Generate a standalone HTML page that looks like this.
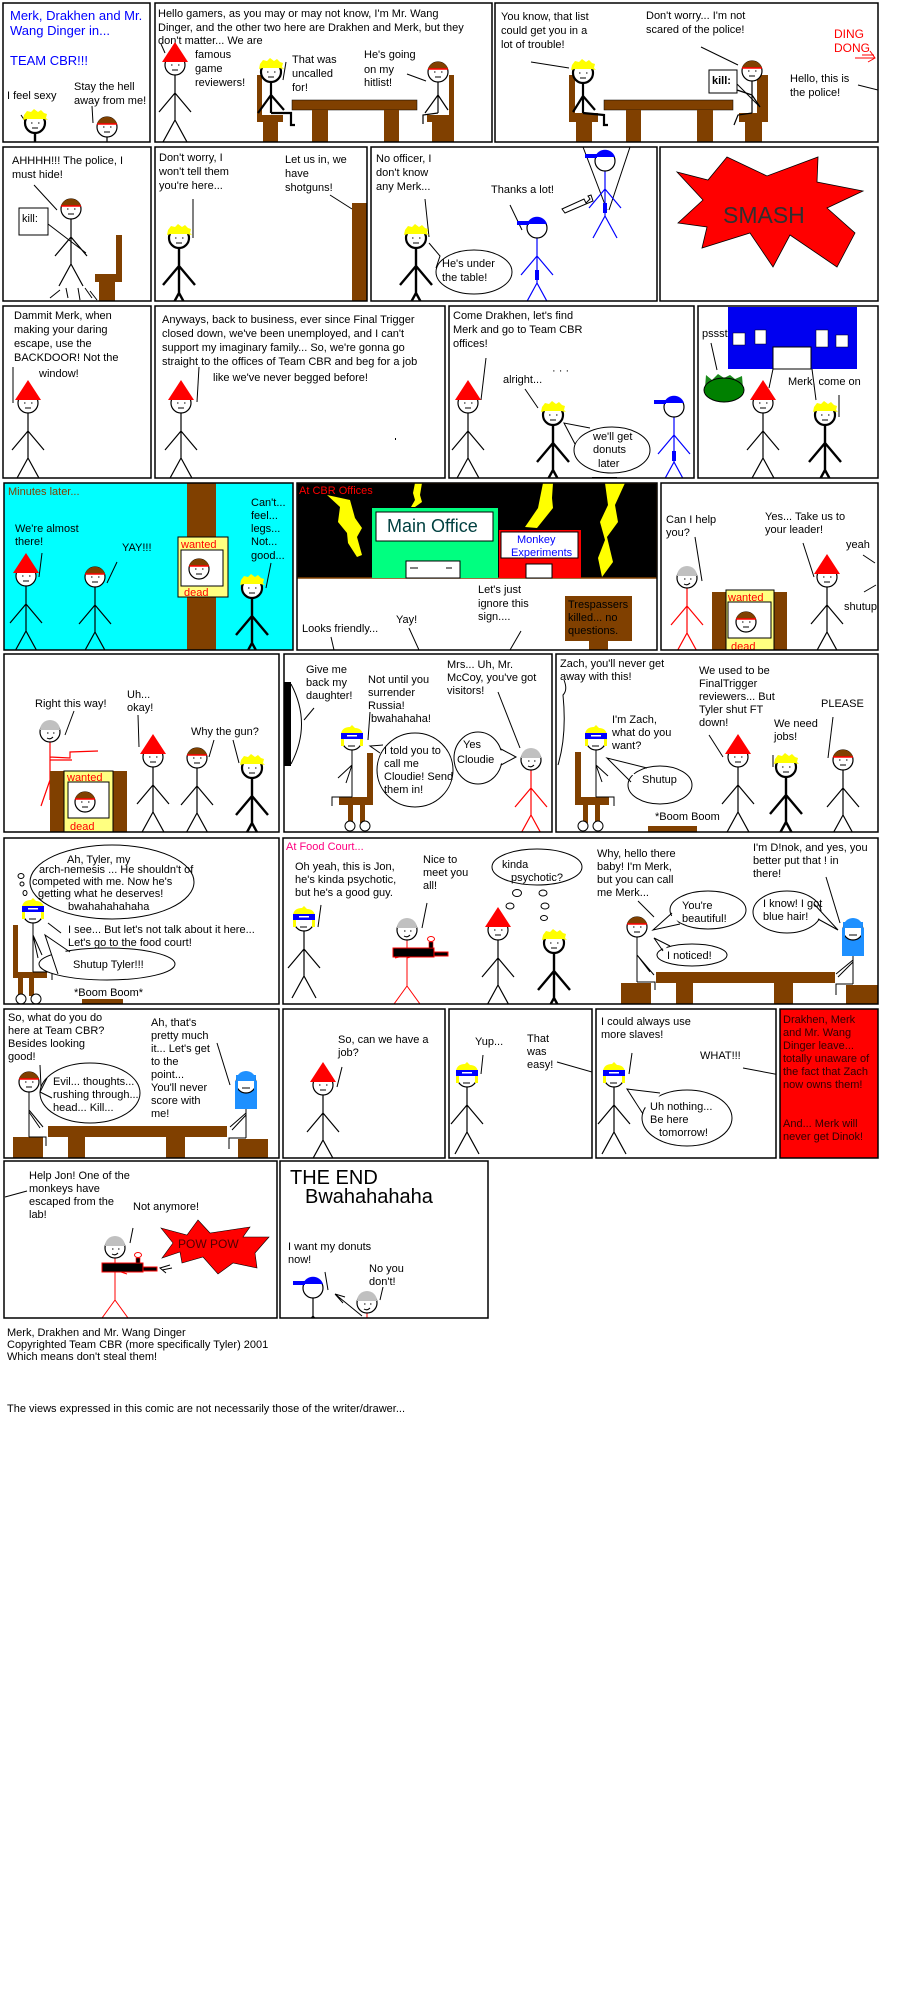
<!DOCTYPE html>
<html><head><meta charset="utf-8"><style>
html,body{margin:0;padding:0;background:#fff;width:900px;height:2000px;overflow:hidden}
svg{display:block}
text{font-family:"Liberation Sans",Arial,sans-serif;font-size:11px;fill:#000}
</style></head><body>
<svg width="900" height="2000" viewBox="0 0 900 2000" xmlns="http://www.w3.org/2000/svg">
<defs>
<g id="fig" fill="none" stroke="#000" stroke-width="1.2"><path d="M0 10V55M0 28L-16 47M0 28L16 47M0 55L-12 77M0 55L12 77"/></g>
<g id="figT" fill="none" stroke="#000" stroke-width="2.4"><path d="M0 10V55M0 28L-16 47M0 28L16 47M0 55L-12 77M0 55L12 77"/></g>
<g id="figR" fill="none" stroke="#f00" stroke-width="1.2"><path d="M0 10V55M0 28L-16 47M0 28L16 47M0 55L-12 77M0 55L12 77"/></g>
<g id="figB" fill="none" stroke="#00f" stroke-width="1.2"><path d="M0 10V55M0 28L-16 47M0 28L16 47M0 55L-12 77M0 55L12 77"/></g>
<g id="face" stroke="#000" stroke-width="1"><path d="M-4 0h1.5M3 0h1.5M-3 5h6"/></g>
<g id="hd"><circle r="10" fill="#fff" stroke="#000" stroke-width="1.2"/><use href="#face"/></g>
<g id="drak"><use href="#hd"/><path d="M-13 -3L13 -3L0 -23Z" fill="#f00"/></g>
<g id="merk"><circle r="10" fill="#fff" stroke="#000" stroke-width="1.2"/><path d="M-10 -3A10.5 10.5 0 0 1 10 -3Z" fill="#804000"/><path d="M-10 -3H10" stroke="#f00" stroke-width="1.6"/><use href="#face"/></g>
<g id="blond"><circle r="10" fill="#fff" stroke="#000" stroke-width="2.2"/><path d="M-12 -3L-11 -8L-8 -12L-4 -11L-1 -14L3 -11L6 -13L9 -10L12 -9L11 -5L13 -3L8 -4L-8 -4Z" fill="#ff0"/><use href="#face"/></g>
<g id="cop"><circle r="10" fill="#fff" stroke="#000" stroke-width="1.2"/><path d="M-10 -4A10.5 10.5 0 0 1 10 -4Z" fill="#00f"/><rect x="-20" y="-7" width="12" height="4" fill="#00f"/></g>
<g id="jon"><circle r="10" fill="#fff" stroke="#000" stroke-width="1.2"/><path d="M-10 -2A10 10 0 0 1 10 -2Z" fill="#c0c0c0"/><path d="M-3 1h1.5M3 1h1.5M-3 6q3 2 6 -1" stroke="#000" fill="none"/></g>
<g id="zach"><circle r="10" fill="#fff" stroke="#000" stroke-width="1.2"/><path d="M-11 -6Q-10 -13 -2 -13L0 -15L3 -12Q10 -12 11 -5Z" fill="#ff0"/><rect x="-11" y="-7" width="22" height="6" fill="#00f"/><rect x="-5" y="-5" width="10" height="1.5" fill="#fff"/><rect x="-11" y="-1" width="3" height="7" fill="#ff0"/><rect x="8" y="-1" width="3" height="7" fill="#ff0"/><path d="M-4 6h7" stroke="#000"/></g>
<g id="dinok"><rect x="-10" y="-8" width="20" height="34" fill="#1e90ff"/><circle r="10" fill="#fff" stroke="#000" stroke-width="1.2"/><path d="M-10 -2A10 10 0 0 1 10 -2Z" fill="#1e90ff"/><rect x="-11" y="-2" width="3" height="28" fill="#1e90ff"/><rect x="8" y="-2" width="3" height="28" fill="#1e90ff"/><path d="M-4 5h8" stroke="#000"/></g>
</defs>

<!-- P1 -->
<svg x="3" y="3" width="147" height="139" viewBox="3 3 147 139">
<rect x="3" y="3" width="147" height="139" fill="#fff"/>
<text x="10" y="20" style="font-size:13px;fill:#00f">Merk, Drakhen and Mr.</text>
<text x="10" y="35" style="font-size:13px;fill:#00f">Wang Dinger in...</text>
<text x="10" y="65" style="font-size:13px;fill:#00f">TEAM CBR!!!</text>
<text x="7" y="99">I feel sexy</text>
<text x="74" y="90">Stay the hell</text>
<text x="74" y="104">away from me!</text>
<path d="M92 106L93 123M21 115L25 121" stroke="#000"/>
<use href="#figT" x="35" y="123"/><use href="#blond" x="35" y="123"/>
<use href="#fig" x="107" y="127"/><use href="#merk" x="107" y="127"/>
</svg>

<!-- P2 -->
<svg x="155" y="3" width="337" height="139" viewBox="155 3 337 139">
<rect x="155" y="3" width="337" height="139" fill="#fff"/>
<text x="158" y="17">Hello gamers, as you may or may not know, I'm Mr. Wang</text>
<text x="158" y="31">Dinger, and the other two here are Drakhen and Merk, but they</text>
<text x="158" y="44">don't matter... We are</text>
<text x="195" y="58">famous</text><text x="195" y="72">game</text><text x="195" y="86">reviewers!</text>
<path d="M161 44L165 53" stroke="#000"/>
<use href="#fig" x="175" y="65"/><use href="#drak" x="175" y="65"/>
<rect x="257" y="75" width="5" height="45" fill="#804000"/>
<rect x="257" y="115" width="26" height="7" fill="#804000"/>
<rect x="263" y="122" width="15" height="20" fill="#804000"/>
<path d="M271 82V113M271 95L258 113M271 95L284 110M271 113H291V125H295" stroke="#000" stroke-width="2.2" fill="none"/>
<use href="#blond" x="271" y="72"/>
<text x="292" y="63">That was</text><text x="292" y="77">uncalled</text><text x="292" y="91">for!</text>
<path d="M286 62L283 80" stroke="#000"/>
<rect x="292" y="100" width="125" height="10" fill="#804000" stroke="#000" stroke-width=".5"/>
<rect x="312" y="110" width="16" height="32" fill="#804000"/>
<rect x="384" y="110" width="15" height="32" fill="#804000"/>
<text x="364" y="58">He's going</text><text x="364" y="73">on my</text><text x="364" y="86">hitlist!</text>
<path d="M407 74L426 81" stroke="#000"/>
<rect x="449" y="75" width="5" height="40" fill="#804000"/>
<rect x="427" y="115" width="27" height="7" fill="#804000"/>
<rect x="432" y="122" width="22" height="20" fill="#804000"/>
<path d="M438 82V113M438 95L425 113M438 95L448 110M438 113L423 115V124" stroke="#000" stroke-width="1.2" fill="none"/>
<use href="#merk" x="438" y="72"/>
</svg>

<!-- P3 -->
<svg x="495" y="3" width="383" height="139" viewBox="495 3 383 139">
<rect x="495" y="3" width="383" height="139" fill="#fff"/>
<text x="501" y="20">You know, that list</text>
<text x="501" y="34">could get you in a</text>
<text x="501" y="48">lot of trouble!</text>
<path d="M531 62L569 68" stroke="#000"/>
<rect x="569" y="75" width="6" height="47" fill="#804000"/>
<rect x="569" y="113" width="29" height="9" fill="#804000"/>
<rect x="576" y="122" width="16" height="20" fill="#804000"/>
<path d="M583 83V113M583 96L573 112M583 96L595 110M583 113L604 115V125H608" stroke="#000" stroke-width="2.2" fill="none"/>
<use href="#blond" x="583" y="73"/>
<text x="646" y="19">Don't worry... I'm not</text>
<text x="646" y="33">scared of the police!</text>
<path d="M701 47L738 65" stroke="#000"/>
<rect x="604" y="100" width="129" height="10" fill="#804000" stroke="#000" stroke-width=".5"/>
<rect x="626" y="110" width="15" height="32" fill="#804000"/>
<rect x="697" y="110" width="16" height="32" fill="#804000"/>
<rect x="757" y="75" width="11" height="47" fill="#804000"/>
<rect x="739" y="113" width="29" height="9" fill="#804000"/>
<rect x="745" y="122" width="17" height="20" fill="#804000"/>
<path d="M752 81V113M752 95L737 90M752 95L760 107M752 113L738 115L734 125" stroke="#000" stroke-width="1.2" fill="none"/>
<use href="#merk" x="752" y="71"/>
<rect x="709" y="70" width="28" height="23" fill="#fff" stroke="#000"/>
<text x="712" y="84" style="font-weight:bold">kill:</text>
<path d="M737 84L760 107" stroke="#000"/>
<text x="834" y="38" style="fill:#f00;font-size:12px">DING</text>
<text x="834" y="52" style="fill:#f00;font-size:12px">DONG</text>
<path d="M855 58H875M862 55H874M870 51L875 58L868 62" stroke="#f00" fill="none"/>
<text x="790" y="82">Hello, this is</text>
<text x="790" y="96">the police!</text>
<path d="M858 85L878 90" stroke="#000"/>
</svg>

<!-- P4 -->
<svg x="3" y="147" width="148" height="154" viewBox="3 147 148 154">
<rect x="3" y="147" width="148" height="154" fill="#fff"/>
<text x="12" y="164">AHHHH!!! The police, I</text>
<text x="12" y="178">must hide!</text>
<path d="M34 185L57 210M48 224L86 253" stroke="#000"/>
<use href="#fig" x="71" y="209"/><use href="#merk" x="71" y="209"/>
<rect x="19" y="208" width="29" height="27" fill="#fff" stroke="#000"/>
<text x="22" y="222">kill:</text>
<rect x="116" y="235" width="6" height="40" fill="#804000"/>
<rect x="95" y="274" width="27" height="8" fill="#804000"/>
<rect x="99" y="282" width="16" height="19" fill="#804000"/>
<path d="M50 298L60 290M66 288L68 298M78 288L80 300M85 288L92 298M90 291L97 300" stroke="#000"/>
</svg>

<!-- P5 -->
<svg x="155" y="147" width="212" height="154" viewBox="155 147 212 154">
<rect x="155" y="147" width="212" height="154" fill="#fff"/>
<text x="159" y="161">Don't worry, I</text>
<text x="159" y="175">won't tell them</text>
<text x="159" y="189">you're here...</text>
<path d="M193 199V238" stroke="#000"/>
<use href="#figT" x="179" y="238"/><use href="#blond" x="179" y="238"/>
<text x="285" y="163">Let us in, we</text>
<text x="285" y="177">have</text>
<text x="285" y="191">shotguns!</text>
<path d="M330 195L352 209" stroke="#000"/>
<rect x="352" y="203" width="15" height="98" fill="#804000"/>
</svg>

<!-- P6 -->
<svg x="371" y="147" width="286" height="154" viewBox="371 147 286 154">
<rect x="371" y="147" width="286" height="154" fill="#fff"/>
<text x="376" y="162">No officer, I</text>
<text x="376" y="176">don't know</text>
<text x="376" y="190">any Merk...</text>
<path d="M425 199L429 237" stroke="#000"/>
<use href="#figT" x="416" y="238"/><use href="#blond" x="416" y="238"/>
<ellipse cx="474" cy="272" rx="38" ry="22" fill="#fff" stroke="#000"/>
<path d="M429 243L440 256L436 268" stroke="#000" fill="#fff"/>
<text x="442" y="267">He's under</text>
<text x="442" y="281">the table!</text>
<text x="491" y="193">Thanks a lot!</text>
<path d="M510 205L522 230" stroke="#000"/>
<use href="#figB" x="537" y="228"/><use href="#cop" x="537" y="228"/>
<rect x="535" y="270" width="4" height="10" fill="#00f"/>
<path d="M583 147L607 210M630 147L609 210" stroke="#000"/>
<use href="#figB" x="605" y="161"/><use href="#cop" x="605" y="161"/>
<rect x="603" y="203" width="4" height="10" fill="#00f"/>
<path d="M562 209L584 199L586 203L590 199L588 196L591 195L593 201L565 213Z" fill="#fff" stroke="#000"/>
</svg>

<!-- P7 -->
<svg x="660" y="147" width="218" height="154" viewBox="660 147 218 154">
<rect x="660" y="147" width="218" height="154" fill="#fff"/>
<polygon points="677,172 708,180 727,157 767,176 818,157 817,182 863,191 827,208 855,233 837,267 790,235 773,267 750,233 702,248 707,227 678,223 703,200" fill="#f00" stroke="#000" stroke-width=".8"/>
<text x="723" y="223" style="font-size:23px;fill:#303030">SMASH</text>
</svg>

<!-- P8 -->
<svg x="3" y="306" width="148" height="172" viewBox="3 306 148 172">
<rect x="3" y="306" width="148" height="172" fill="#fff"/>
<text x="14" y="319">Dammit Merk, when</text>
<text x="14" y="333">making your daring</text>
<text x="14" y="347">escape, use the</text>
<text x="14" y="361">BACKDOOR! Not the</text>
<text x="39" y="377">window!</text>
<path d="M13 367V403" stroke="#000"/>
<use href="#fig" x="28" y="403"/><use href="#drak" x="28" y="403"/>
</svg>

<!-- P9 -->
<svg x="155" y="306" width="290" height="172" viewBox="155 306 290 172">
<rect x="155" y="306" width="290" height="172" fill="#fff"/>
<text x="162" y="323">Anyways, back to business, ever since Final Trigger</text>
<text x="162" y="337">closed down, we've been unemployed, and I can't</text>
<text x="162" y="351">support my imaginary family... So, we're gonna go</text>
<text x="162" y="365">straight to the offices of Team CBR and beg for a job</text>
<text x="213" y="381">like we've never begged before!</text>
<path d="M199 367L197 402" stroke="#000"/>
<use href="#fig" x="181" y="403"/><use href="#drak" x="181" y="403"/>
<rect x="395" y="438" width="1" height="2" fill="#000"/>
</svg>

<!-- P10 -->
<svg x="449" y="306" width="245" height="172" viewBox="449 306 245 172">
<rect x="449" y="306" width="245" height="172" fill="#fff"/>
<text x="453" y="319">Come Drakhen, let's find</text>
<text x="453" y="333">Merk and go to Team CBR</text>
<text x="453" y="347">offices!</text>
<path d="M486 358L481 400" stroke="#000"/>
<use href="#fig" x="468" y="403"/><use href="#drak" x="468" y="403"/>
<text x="503" y="383">alright...</text>
<text x="552" y="374">· · ·</text>
<path d="M525 389L538 408" stroke="#000"/>
<use href="#figT" x="553" y="415"/><use href="#blond" x="553" y="415"/>
<ellipse cx="612" cy="450" rx="38" ry="23" fill="#fff" stroke="#000"/>
<path d="M564 423L587 428L575 443Z" fill="#fff" stroke="none"/>
<path d="M575 444L564 423L590 428" stroke="#000" fill="none"/>
<text x="593" y="440">we'll get</text>
<text x="593" y="453">donuts</text>
<text x="598" y="467">later</text>
<path d="M592 478H617" stroke="#000" stroke-width="2"/>
<use href="#figB" x="674" y="407"/><use href="#cop" x="674" y="407"/>
<rect x="672" y="451" width="4" height="10" fill="#00f"/>
</svg>

<!-- P11 -->
<svg x="698" y="306" width="180" height="172" viewBox="698 306 180 172">
<rect x="698" y="306" width="180" height="172" fill="#fff"/>
<rect x="728" y="307" width="129" height="62" fill="#0000f0"/>
<rect x="733" y="333" width="12" height="12" fill="#fff" stroke="#000" stroke-width=".5"/>
<rect x="755" y="330" width="11" height="14" fill="#fff" stroke="#000" stroke-width=".5"/>
<rect x="816" y="330" width="12" height="17" fill="#fff" stroke="#000" stroke-width=".5"/>
<rect x="836" y="335" width="12" height="12" fill="#fff" stroke="#000" stroke-width=".5"/>
<rect x="773" y="347" width="38" height="22" fill="#fff" stroke="#000"/>
<text x="702" y="337">pssst</text>
<path d="M711 343L717 370" stroke="#000"/>
<path d="M705 388L706 375L712 380L718 374L724 378L730 375L735 379L742 376L743 388Z" fill="#1a8a1a"/>
<ellipse cx="724" cy="390" rx="20" ry="12" fill="#008000" stroke="#000"/>
<use href="#fig" x="763" y="403"/><use href="#drak" x="763" y="403"/>
<text x="788" y="385">Merk, come on</text>
<path d="M773 369L769 388M812 369L816 400M839 395V417" stroke="#000"/>
<use href="#figT" x="825" y="415"/><use href="#blond" x="825" y="415"/>
</svg>

<!-- P12 -->
<svg x="4" y="483" width="289" height="167" viewBox="4 483 289 167">
<rect x="4" y="483" width="289" height="167" fill="#0ff"/>
<text x="8" y="495" style="fill:#804000">Minutes later...</text>
<rect x="187" y="483" width="29" height="167" fill="#804000"/>
<rect x="178" y="537" width="50" height="60" fill="#ffff80" stroke="#000"/>
<text x="181" y="548" style="fill:#f00">wanted</text>
<rect x="181" y="550" width="42" height="36" fill="#fff" stroke="#000"/>
<use href="#merk" x="199" y="569"/>
<text x="184" y="596" style="fill:#f00">dead</text>
<text x="15" y="532">We're almost</text>
<text x="15" y="545">there!</text>
<path d="M42 553L39 577" stroke="#000"/>
<use href="#fig" x="26" y="576"/><use href="#drak" x="26" y="576"/>
<use href="#fig" x="95" y="577"/><use href="#merk" x="95" y="577"/>
<text x="122" y="551">YAY!!!</text>
<path d="M117 562L107 583" stroke="#000"/>
<text x="251" y="506">Can't...</text>
<text x="251" y="519">feel...</text>
<text x="251" y="532">legs...</text>
<text x="251" y="545">Not...</text>
<text x="251" y="559">good...</text>
<path d="M271 563L266 588" stroke="#000"/>
<use href="#figT" x="252" y="588"/><use href="#blond" x="252" y="588"/>
</svg>

<!-- P13 -->
<svg x="297" y="483" width="360" height="167" viewBox="297 483 360 167">
<rect x="297" y="483" width="360" height="167" fill="#fff"/>
<rect x="297" y="483" width="360" height="95" fill="#000" stroke="#804000" stroke-width="1.5"/>
<text x="299" y="494" style="fill:#f00">At CBR Offices</text>
<polygon points="327,495 350,500 355,518 362,528 357,537 362,555 357,557 348,543 347,533 338,522 340,507" fill="#ff0"/>
<polygon points="415,483 422,483 420,495 422,502 415,507 411,507 415,500 413,493" fill="#ff0"/>
<polygon points="543,483 553,483 552,498 553,508 537,528 525,527 538,508 540,498" fill="#ff0"/>
<polygon points="605,483 625,483 615,505 618,522 607,537 613,562 602,577 598,558 605,540 600,522 608,505" fill="#ff0"/>
<rect x="372" y="508" width="126" height="70" fill="#00ff80"/>
<rect x="376" y="512" width="117" height="29" fill="#fff" stroke="#000"/>
<text x="387" y="532" style="font-size:18px;fill:#004040">Main Office</text>
<rect x="406" y="561" width="54" height="17" fill="#fff" stroke="#000"/>
<path d="M410 568h8M452 568h-6" stroke="#000"/>
<rect x="499" y="530" width="82" height="48" fill="#f00"/>
<rect x="501" y="532" width="77" height="26" fill="#fff" stroke="#000"/>
<text x="517" y="543" style="fill:#00f">Monkey</text>
<text x="511" y="556" style="fill:#00f">Experiments</text>
<rect x="526" y="564" width="26" height="14" fill="#fff" stroke="#000"/>
<text x="302" y="632">Looks friendly...</text>
<text x="396" y="623">Yay!</text>
<text x="478" y="593">Let's just</text>
<text x="478" y="607">ignore this</text>
<text x="478" y="620">sign....</text>
<path d="M331 637L334 650M409 628L419 650M521 631L510 650" stroke="#000"/>
<rect x="565" y="596" width="67" height="45" fill="#804000"/>
<rect x="589" y="641" width="19" height="9" fill="#804000"/>
<text x="568" y="608">Trespassers</text>
<text x="568" y="621">killed... no</text>
<text x="568" y="634">questions.</text>
</svg>

<!-- P14 -->
<svg x="661" y="483" width="217" height="167" viewBox="661 483 217 167">
<rect x="661" y="483" width="217" height="167" fill="#fff"/>
<text x="666" y="523">Can I help</text>
<text x="666" y="536">you?</text>
<path d="M695 537L702 581" stroke="#000"/>
<use href="#figR" x="687" y="578"/><use href="#jon" x="687" y="578"/>
<rect x="712" y="592" width="75" height="58" fill="#804000"/>
<rect x="726" y="590" width="48" height="60" fill="#ffff80" stroke="#000"/>
<text x="728" y="601" style="fill:#f00">wanted</text>
<rect x="728" y="602" width="43" height="36" fill="#fff" stroke="#000"/>
<use href="#merk" x="746" y="622"/>
<text x="731" y="650" style="fill:#f00">dead</text>
<text x="765" y="520">Yes... Take us to</text>
<text x="765" y="533">your leader!</text>
<path d="M803 543L814 577" stroke="#000"/>
<use href="#fig" x="827" y="577"/><use href="#drak" x="827" y="577"/>
<text x="846" y="548">yeah</text>
<path d="M863 555L875 563M864 592L876 585" stroke="#000"/>
<text x="844" y="610">shutup</text>
</svg>

<!-- P15 -->
<svg x="4" y="654" width="275" height="178" viewBox="4 654 275 178">
<rect x="4" y="654" width="275" height="178" fill="#fff"/>
<text x="35" y="707">Right this way!</text>
<path d="M74 711L65 735" stroke="#000"/>
<path d="M50 742V800M50 757L70 758L70 752L98 751M50 760L72 760M50 780L41 806M50 780L62 800" stroke="#f00" fill="none" stroke-width="1.2"/>
<use href="#jon" x="50" y="732"/>
<rect x="50" y="771" width="77" height="61" fill="#804000"/>
<rect x="64" y="771" width="49" height="61" fill="#ffff80" stroke="#000"/>
<text x="67" y="781" style="fill:#f00">wanted</text>
<rect x="68" y="782" width="41" height="36" fill="#fff" stroke="#000"/>
<use href="#merk" x="85" y="802"/>
<text x="70" y="830" style="fill:#f00">dead</text>
<text x="127" y="698">Uh...</text>
<text x="127" y="711">okay!</text>
<path d="M138 715L139 747" stroke="#000"/>
<use href="#fig" x="153" y="757"/><use href="#drak" x="153" y="757"/>
<use href="#fig" x="197" y="758"/><use href="#merk" x="197" y="758"/>
<text x="191" y="735">Why the gun?</text>
<path d="M214 740L209 757M233 740L239 763" stroke="#000"/>
<use href="#figT" x="252" y="768"/><use href="#blond" x="252" y="768"/>
</svg>

<!-- P16 -->
<svg x="284" y="654" width="268" height="178" viewBox="284 654 268 178">
<rect x="284" y="654" width="268" height="178" fill="#fff"/>
<rect x="283" y="682" width="8" height="84" fill="#000"/>
<path d="M291 684Q312 724 291 764" stroke="#000" fill="none"/>
<text x="306" y="673">Give me</text>
<text x="306" y="686">back my</text>
<text x="306" y="699">daughter!</text>
<path d="M314 708L304 720" stroke="#000"/>
<text x="368" y="683">Not until you</text>
<text x="368" y="696">surrender</text>
<text x="368" y="709">Russia!</text>
<text x="371" y="722">bwahahaha!</text>
<path d="M370 712L368 740" stroke="#000"/>
<rect x="367" y="753" width="6" height="50" fill="#804000"/>
<rect x="339" y="797" width="34" height="8" fill="#804000"/>
<rect x="348" y="805" width="5" height="18" fill="#804000"/>
<rect x="360" y="805" width="5" height="18" fill="#804000"/>
<circle cx="350" cy="826" r="5" fill="#fff" stroke="#000"/>
<circle cx="365" cy="826" r="5" fill="#fff" stroke="#000"/>
<path d="M352 750V797M352 765L338 778M352 765L346 783M352 797L332 797V806" stroke="#000" fill="none"/>
<use href="#zach" x="352" y="740"/>
<ellipse cx="415" cy="770" rx="38" ry="37" fill="#fff" stroke="#000"/>
<path d="M370 746L382 744L380 752Z" fill="#fff"/>
<path d="M380 753L370 746L383 745" stroke="#000" fill="none"/>
<text x="384" y="754">I told you to</text>
<text x="384" y="767">call me</text>
<text x="384" y="780">Cloudie! Send</text>
<text x="384" y="793">them in!</text>
<text x="447" y="668">Mrs... Uh, Mr.</text>
<text x="447" y="681">McCoy, you've got</text>
<text x="447" y="694">visitors!</text>
<path d="M498 692L520 748" stroke="#000"/>
<ellipse cx="478" cy="758" rx="24" ry="26" fill="#fff" stroke="#000"/>
<path d="M500 750L516 757L500 764Z" fill="#fff"/>
<path d="M501 749L516 757L501 765" stroke="#000" fill="none"/>
<text x="463" y="748">Yes</text>
<text x="457" y="763">Cloudie</text>
<use href="#figR" x="531" y="760"/><use href="#jon" x="531" y="760"/>
</svg>

<!-- P17 -->
<svg x="556" y="654" width="322" height="178" viewBox="556 654 322 178">
<rect x="556" y="654" width="322" height="178" fill="#fff"/>
<text x="560" y="667">Zach, you'll never get</text>
<text x="560" y="680">away with this!</text>
<path d="M564 680Q568 690 563 695Q567 735 558 765" stroke="#000" fill="none"/>
<rect x="575" y="752" width="6" height="51" fill="#804000"/>
<rect x="575" y="797" width="34" height="8" fill="#804000"/>
<rect x="583" y="805" width="5" height="18" fill="#804000"/>
<rect x="595" y="805" width="5" height="18" fill="#804000"/>
<circle cx="583" cy="826" r="5" fill="#fff" stroke="#000"/>
<circle cx="598" cy="826" r="5" fill="#fff" stroke="#000"/>
<path d="M596 750V797M596 765L608 776M596 765L602 782M596 797L614 797V806" stroke="#000" fill="none"/>
<use href="#zach" x="596" y="740"/>
<text x="612" y="723">I'm Zach,</text>
<text x="612" y="736">what do you</text>
<text x="612" y="749">want?</text>
<ellipse cx="660" cy="785" rx="32" ry="19" fill="#fff" stroke="#000"/>
<path d="M607 758L630 770L640 780Z" fill="#fff"/>
<path d="M631 782L607 758L647 768" stroke="#000" fill="none"/>
<text x="642" y="783">Shutup</text>
<text x="655" y="820">*Boom Boom</text>
<rect x="648" y="826" width="49" height="6" fill="#804000"/>
<text x="699" y="674">We used to be</text>
<text x="699" y="687">FinalTrigger</text>
<text x="699" y="700">reviewers... But</text>
<text x="699" y="713">Tyler shut FT</text>
<text x="699" y="726">down!</text>
<path d="M709 735L723 757" stroke="#000"/>
<use href="#fig" x="738" y="757"/><use href="#drak" x="738" y="757"/>
<text x="774" y="727">We need</text>
<text x="774" y="740">jobs!</text>
<path d="M773 755V767" stroke="#000"/>
<use href="#figT" x="786" y="767"/><use href="#blond" x="786" y="767"/>
<text x="821" y="707">PLEASE</text>
<path d="M833 717L828 758" stroke="#000"/>
<use href="#fig" x="843" y="760"/><use href="#merk" x="843" y="760"/>
</svg>

<!-- P18 -->
<svg x="4" y="838" width="275" height="166" viewBox="4 838 275 166">
<rect x="4" y="838" width="275" height="166" fill="#fff"/>
<ellipse cx="112" cy="882" rx="82" ry="37" fill="#fff" stroke="#000"/>
<text x="67" y="863">Ah, Tyler, my</text>
<text x="39" y="873">arch-nemesis ... He shouldn't of</text>
<text x="32" y="885">competed with me. Now he's</text>
<text x="38" y="897">getting what he deserves!</text>
<text x="68" y="910">bwahahahahaha</text>
<ellipse cx="21" cy="876" rx="3" ry="2.5" fill="#fff" stroke="#000"/>
<ellipse cx="22" cy="884" rx="2" ry="2" fill="#fff" stroke="#000"/>
<ellipse cx="25" cy="893" rx="2" ry="2.5" fill="#fff" stroke="#000"/>
<rect x="13" y="925" width="5" height="50" fill="#804000"/>
<rect x="13" y="972" width="34" height="6" fill="#804000"/>
<rect x="18" y="978" width="5" height="18" fill="#804000"/>
<rect x="29" y="978" width="5" height="18" fill="#804000"/>
<circle cx="21" cy="999" r="5" fill="#fff" stroke="#000"/>
<circle cx="36" cy="999" r="5" fill="#fff" stroke="#000"/>
<path d="M33 923V972M33 935L42 955M33 935L38 958M33 972H52V980" stroke="#000" fill="none"/>
<use href="#zach" x="33" y="913"/>
<path d="M48 923L61 933" stroke="#000"/>
<text x="68" y="933">I see... But let's not talk about it here...</text>
<text x="68" y="946">Let's go to the food court!</text>
<ellipse cx="107" cy="964" rx="68" ry="16" fill="#fff" stroke="#000"/>
<path d="M45 935L70 955L58 975Z" fill="#fff"/>
<path d="M58 974L45 935L70 952" stroke="#000" fill="none"/>
<text x="73" y="968">Shutup Tyler!!!</text>
<text x="74" y="996">*Boom Boom*</text>
<rect x="82" y="999" width="41" height="5" fill="#804000"/>
</svg>

<!-- P19 -->
<svg x="283" y="838" width="595" height="166" viewBox="283 838 595 166">
<rect x="283" y="838" width="595" height="166" fill="#fff"/>
<text x="286" y="850" style="fill:#ff0080">At Food Court...</text>
<text x="295" y="870">Oh yeah, this is Jon,</text>
<text x="295" y="883">he's kinda psychotic,</text>
<text x="295" y="896">but he's a good guy.</text>
<path d="M321 905L318 927" stroke="#000"/>
<use href="#fig" x="304" y="921"/><use href="#zach" x="304" y="921"/>
<text x="423" y="863">Nice to</text>
<text x="423" y="876">meet you</text>
<text x="423" y="889">all!</text>
<path d="M427 903L422 928" stroke="#000"/>
<path d="M407 940V986M407 986L394 1004M407 986L420 1004M407 955L395 958M407 958L420 954" stroke="#f00" fill="none"/>
<use href="#jon" x="407" y="930"/>
<rect x="393" y="948" width="41" height="9" fill="#000" stroke="#f00"/>
<rect x="434" y="952" width="14" height="4" fill="#000" stroke="#f00"/>
<rect x="429" y="942" width="4" height="6" fill="#000" stroke="#f00" stroke-width=".6"/>
<ellipse cx="431" cy="939" rx="3.5" ry="2.5" fill="#fff" stroke="#f00"/>
<ellipse cx="537" cy="867" rx="45" ry="18" fill="#fff" stroke="#000"/>
<text x="502" y="868">kinda</text>
<text x="511" y="881">psychotic?</text>
<ellipse cx="517" cy="893" rx="4.5" ry="3.5" fill="#fff" stroke="#000"/>
<ellipse cx="510" cy="906" rx="4" ry="3" fill="#fff" stroke="#000"/>
<ellipse cx="543" cy="893" rx="4" ry="3" fill="#fff" stroke="#000"/>
<ellipse cx="545" cy="906" rx="4" ry="3" fill="#fff" stroke="#000"/>
<ellipse cx="544" cy="918" rx="3.5" ry="2.5" fill="#fff" stroke="#000"/>
<use href="#fig" x="498" y="930"/><use href="#drak" x="498" y="930"/>
<use href="#figT" x="554" y="943"/><use href="#blond" x="554" y="943"/>
<text x="597" y="857">Why, hello there</text>
<text x="597" y="870">baby! I'm Merk,</text>
<text x="597" y="883">but you can call</text>
<text x="597" y="896">me Merk...</text>
<path d="M638 901L654 917" stroke="#000"/>
<rect x="621" y="983" width="30" height="21" fill="#804000"/>
<path d="M637 937V982M637 955L650 972M637 955L654 975M637 982H655V990" stroke="#000" fill="none"/>
<use href="#merk" x="637" y="927"/>
<rect x="656" y="972" width="179" height="11" fill="#804000"/>
<rect x="676" y="983" width="17" height="21" fill="#804000"/>
<rect x="774" y="983" width="19" height="21" fill="#804000"/>
<ellipse cx="708" cy="910" rx="38" ry="19" fill="#fff" stroke="#000"/>
<path d="M653 930L673 915L680 925Z" fill="#fff"/>
<path d="M672 913L653 930L680 924" stroke="#000" fill="none"/>
<text x="682" y="909">You're</text>
<text x="682" y="922">beautiful!</text>
<ellipse cx="692" cy="955" rx="35" ry="11" fill="#fff" stroke="#000"/>
<path d="M654 938L668 946L664 950Z" fill="#fff"/>
<path d="M663 951L654 938L670 946" stroke="#000" fill="none"/>
<text x="667" y="959">I noticed!</text>
<text x="753" y="851">I'm D!nok, and yes, you</text>
<text x="753" y="864">better put that ! in</text>
<text x="753" y="877">there!</text>
<path d="M826 877L840 923" stroke="#000"/>
<ellipse cx="787" cy="912" rx="34" ry="21" fill="#fff" stroke="#000"/>
<path d="M815 905L838 930L818 918Z" fill="#fff"/>
<path d="M814 904L838 930L818 919" stroke="#000" fill="none"/>
<text x="763" y="907">I know! I got</text>
<text x="763" y="920">blue hair!</text>
<rect x="846" y="985" width="32" height="19" fill="#804000"/>
<path d="M853 956V984M853 960L836 974M853 962L838 977M853 984H836V995" stroke="#000" fill="none"/>
<use href="#dinok" x="853" y="930"/>
</svg>

<!-- P20 -->
<svg x="4" y="1009" width="275" height="149" viewBox="4 1009 275 149">
<rect x="4" y="1009" width="275" height="149" fill="#fff"/>
<text x="8" y="1021">So, what do you do</text>
<text x="8" y="1034">here at Team CBR?</text>
<text x="8" y="1047">Besides looking</text>
<text x="8" y="1060">good!</text>
<path d="M40 1065L41 1087" stroke="#000"/>
<rect x="13" y="1137" width="30" height="21" fill="#804000"/>
<path d="M29 1092V1137M29 1110L43 1127M29 1112L40 1128M29 1137H46V1146" stroke="#000" fill="none"/>
<use href="#merk" x="29" y="1082"/>
<ellipse cx="90" cy="1093" rx="50" ry="30" fill="#fff" stroke="#000"/>
<path d="M40 1092L48 1079L52 1097Z" fill="#fff"/>
<path d="M47 1078L40 1092L52 1098" stroke="#000" fill="none"/>
<text x="53" y="1085">Evil... thoughts...</text>
<text x="53" y="1098">rushing through...</text>
<text x="53" y="1111">head... Kill...</text>
<rect x="48" y="1126" width="179" height="11" fill="#804000"/>
<rect x="68" y="1137" width="17" height="21" fill="#804000"/>
<rect x="166" y="1137" width="19" height="21" fill="#804000"/>
<text x="151" y="1026">Ah, that's</text>
<text x="151" y="1039">pretty much</text>
<text x="151" y="1052">it... Let's get</text>
<text x="151" y="1065">to the</text>
<text x="151" y="1078">point...</text>
<text x="151" y="1091">You'll never</text>
<text x="151" y="1104">score with</text>
<text x="151" y="1117">me!</text>
<path d="M217 1043L230 1085" stroke="#000"/>
<rect x="238" y="1139" width="30" height="19" fill="#804000"/>
<path d="M246 1109V1138M246 1113L230 1127M246 1115L232 1130M246 1138H229V1149" stroke="#000" fill="none"/>
<use href="#dinok" x="246" y="1083"/>
</svg>

<!-- P21 -->
<svg x="283" y="1009" width="162" height="149" viewBox="283 1009 162 149">
<rect x="283" y="1009" width="162" height="149" fill="#fff"/>
<text x="338" y="1043">So, can we have a</text>
<text x="338" y="1056">job?</text>
<path d="M342 1067L337 1087" stroke="#000"/>
<use href="#fig" x="323" y="1085"/><use href="#drak" x="323" y="1085"/>
</svg>

<!-- P22 -->
<svg x="449" y="1009" width="143" height="149" viewBox="449 1009 143 149">
<rect x="449" y="1009" width="143" height="149" fill="#fff"/>
<text x="475" y="1045">Yup...</text>
<path d="M483 1055L481 1074" stroke="#000"/>
<use href="#fig" x="467" y="1077"/><use href="#zach" x="467" y="1077"/>
<text x="527" y="1042">That</text>
<text x="527" y="1055">was</text>
<text x="527" y="1068">easy!</text>
<path d="M557 1062L592 1072" stroke="#000"/>
</svg>

<!-- P23 -->
<svg x="596" y="1009" width="180" height="149" viewBox="596 1009 180 149">
<rect x="596" y="1009" width="180" height="149" fill="#fff"/>
<text x="601" y="1025">I could always use</text>
<text x="601" y="1038">more slaves!</text>
<path d="M632 1053L629 1074" stroke="#000"/>
<use href="#fig" x="614" y="1077"/><use href="#zach" x="614" y="1077"/>
<text x="700" y="1059">WHAT!!!</text>
<path d="M743 1068L780 1075" stroke="#000"/>
<ellipse cx="687" cy="1118" rx="45" ry="28" fill="#fff" stroke="#000"/>
<path d="M627 1089L660 1095L648 1110Z" fill="#fff"/>
<path d="M643 1114L627 1089L660 1093" stroke="#000" fill="none"/>
<text x="650" y="1110">Uh nothing...</text>
<text x="650" y="1123">Be here</text>
<text x="659" y="1136">tomorrow!</text>
</svg>

<!-- P24 -->
<rect x="780" y="1009" width="98" height="149" fill="#f00"/>
<g style="fill:#300000">
<text x="783" y="1023" style="fill:#300000">Drakhen, Merk</text>
<text x="783" y="1036" style="fill:#300000">and Mr. Wang</text>
<text x="783" y="1049" style="fill:#300000">Dinger leave...</text>
<text x="783" y="1062" style="fill:#300000">totally unaware of</text>
<text x="783" y="1075" style="fill:#300000">the fact that Zach</text>
<text x="783" y="1088" style="fill:#300000">now owns them!</text>
<text x="783" y="1127" style="fill:#300000">And... Merk will</text>
<text x="783" y="1140" style="fill:#300000">never get Dinok!</text>
</g>

<!-- P25 -->
<svg x="4" y="1161" width="273" height="157" viewBox="4 1161 273 157">
<rect x="4" y="1161" width="273" height="157" fill="#fff"/>
<text x="29" y="1179">Help Jon! One of the</text>
<text x="29" y="1192">monkeys have</text>
<text x="29" y="1205">escaped from the</text>
<text x="29" y="1218">lab!</text>
<path d="M5 1197L27 1191" stroke="#000"/>
<text x="133" y="1210">Not anymore!</text>
<path d="M133 1228L130 1243" stroke="#000"/>
<path d="M115 1258V1300M115 1300L102 1318M115 1300L128 1318M115 1270L127 1274M115 1272L130 1270" stroke="#f00" fill="none"/>
<use href="#jon" x="115" y="1248"/>
<rect x="102" y="1263" width="41" height="9" fill="#000" stroke="#f00"/>
<rect x="143" y="1267" width="14" height="4" fill="#000" stroke="#f00"/>
<rect x="136" y="1258" width="4" height="5" fill="#000" stroke="#f00" stroke-width=".6"/>
<ellipse cx="138" cy="1255" rx="3.5" ry="2.5" fill="#fff" stroke="#f00"/>
<polygon points="161,1228 187,1235 198,1220 210,1233 250,1227 243,1237 269,1237 255,1253 257,1268 233,1263 218,1274 203,1257 182,1263 180,1252 162,1258 173,1243" fill="#f00" stroke="#000" stroke-width=".6"/>
<text x="178" y="1248" style="font-size:12px;fill:#500000">POW POW</text>
<path d="M170 1265L160 1268L166 1273M172 1268L162 1270" stroke="#000" fill="none"/>
</svg>

<!-- P26 -->
<svg x="280" y="1161" width="208" height="157" viewBox="280 1161 208 157">
<rect x="280" y="1161" width="208" height="157" fill="#fff"/>
<text x="290" y="1184" style="font-size:20px">THE END</text>
<text x="305" y="1203" style="font-size:20px">Bwahahahaha</text>
<text x="288" y="1250">I want my donuts</text>
<text x="288" y="1263">now!</text>
<text x="369" y="1272">No you</text>
<text x="369" y="1285">don't!</text>
<path d="M325 1272L328 1290M383 1287L380 1300" stroke="#000"/>
<use href="#fig" x="313" y="1288"/><use href="#cop" x="313" y="1288"/>
<path d="M335 1294L362 1316M335 1294L343 1303M335 1294L345 1297" stroke="#000" fill="none"/>
<path d="M367 1313V1318" stroke="#f00"/>
<use href="#jon" x="367" y="1303"/>
</svg>

<!-- frames -->
<g fill="none" stroke="#000" stroke-width="1.5">
<rect x="3" y="3" width="147" height="139"/>
<rect x="155" y="3" width="337" height="139"/>
<rect x="495" y="3" width="383" height="139"/>
<rect x="3" y="147" width="148" height="154"/>
<rect x="155" y="147" width="212" height="154"/>
<rect x="371" y="147" width="286" height="154"/>
<rect x="660" y="147" width="218" height="154"/>
<rect x="3" y="306" width="148" height="172"/>
<rect x="155" y="306" width="290" height="172"/>
<rect x="449" y="306" width="245" height="172"/>
<rect x="698" y="306" width="180" height="172"/>
<rect x="4" y="483" width="289" height="167"/>
<rect x="297" y="483" width="360" height="167"/>
<rect x="661" y="483" width="217" height="167"/>
<rect x="4" y="654" width="275" height="178"/>
<rect x="284" y="654" width="268" height="178"/>
<rect x="556" y="654" width="322" height="178"/>
<rect x="4" y="838" width="275" height="166"/>
<rect x="283" y="838" width="595" height="166"/>
<rect x="4" y="1009" width="275" height="149"/>
<rect x="283" y="1009" width="162" height="149"/>
<rect x="449" y="1009" width="143" height="149"/>
<rect x="596" y="1009" width="180" height="149"/>
<rect x="780" y="1009" width="98" height="149"/>
<rect x="4" y="1161" width="273" height="157"/>
<rect x="280" y="1161" width="208" height="157"/>
</g>

<!-- footer -->
<text x="7" y="1336">Merk, Drakhen and Mr. Wang Dinger</text>
<text x="7" y="1348">Copyrighted Team CBR (more specifically Tyler) 2001</text>
<text x="7" y="1360">Which means don't steal them!</text>
<text x="7" y="1412">The views expressed in this comic are not necessarily those of the writer/drawer...</text>
</svg>
</body></html>
